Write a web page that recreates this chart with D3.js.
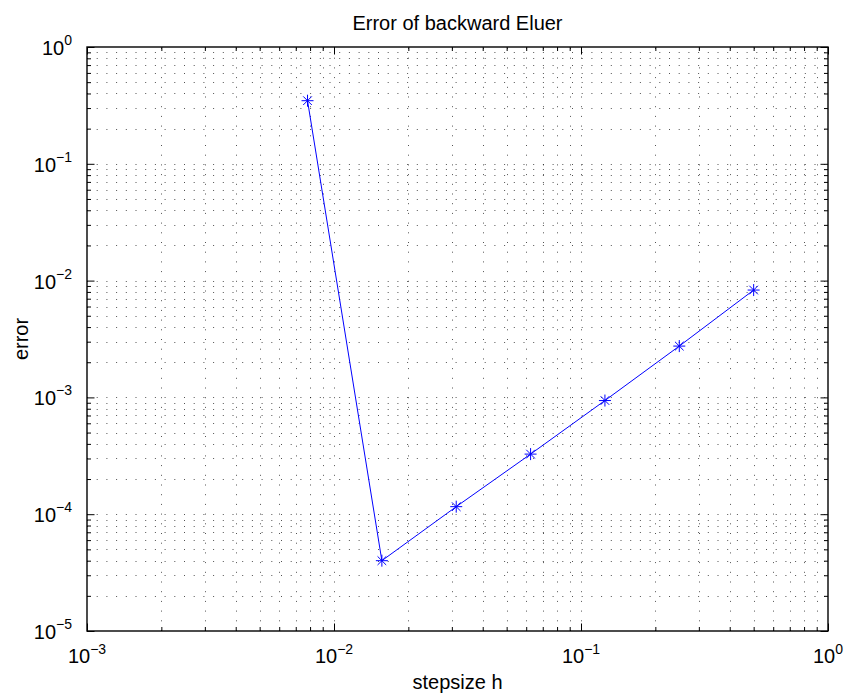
<!DOCTYPE html>
<html>
<head>
<meta charset="utf-8">
<script src="https://cdn.jsdelivr.net/npm/d3@7"></script>
<style>
  body { margin: 0; background: #fff; }
  svg text { font-family: "Liberation Sans", Arial, sans-serif; fill: #000; }
</style>
</head>
<body>
<div id="chart"></div>
<script>
// données
const stepsizes = [0.0078125, 0.015625, 0.03125, 0.0625, 0.125, 0.25, 0.5];
const errors = [0.347, 4.0e-5, 1.16e-4, 3.27e-4, 9.4e-4, 2.75e-3, 8.3e-3];
const xMajorTicks = [1e-3, 1e-2, 1e-1, 1e0];
const yMajorTicks = [1e-5, 1e-4, 1e-3, 1e-2, 1e-1, 1e0];
const titleText = 'Error of backward Eluer';
const xLabel = 'stepsize h';
const yLabel = 'error';

const width = 845, height = 695;
const margin = { top: 47, right: 17, bottom: 64, left: 87 };
const innerW = width - margin.left - margin.right;
const innerH = height - margin.top - margin.bottom;

const x = d3.scaleLog().domain([1e-3, 1]).range([0, innerW]);
const y = d3.scaleLog().domain([1e-5, 1]).range([innerH, 0]);

// ticks mineurs 2..9 dans chaque décade
function minorTicks(majors) {
    const out = [];
    for (let i = 0; i < majors.length - 1; i++) {
        for (let k = 2; k <= 9; k++) out.push(majors[i] * k);
    }
    return out;
}
const xMinor = minorTicks(xMajorTicks);
const yMinor = minorTicks(yMajorTicks);

const svg = d3.select('#chart').append('svg')
    .attr('width', width)
    .attr('height', height);

const g = svg.append('g').attr('transform', `translate(${margin.left},${margin.top})`);

// grille pointillée
const grid = g.append('g')
    .attr('stroke', '#000')
    .attr('stroke-width', 0.8)
    .attr('stroke-opacity', 0.85)
    .attr('stroke-dasharray', '1,8.7');

grid.selectAll('.gx')
    .data(xMajorTicks.slice(1, -1).concat(xMinor))
    .enter().append('line')
    .attr('x1', d => Math.round(x(d)) + 0.5)
    .attr('x2', d => Math.round(x(d)) + 0.5)
    .attr('y1', innerH)
    .attr('y2', 0);

grid.selectAll('.gy')
    .data(yMajorTicks.slice(1, -1).concat(yMinor))
    .enter().append('line')
    .attr('y1', d => Math.round(y(d)) + 0.5)
    .attr('y2', d => Math.round(y(d)) + 0.5)
    .attr('x1', 0)
    .attr('x2', innerW);

// axes avec ticks vers l'intérieur
const majorLen = 7.5, minorLen = 4;
function addAxis(axisFn, scale, transform, ticks, len) {
    const a = g.append('g')
        .attr('transform', transform)
        .call(axisFn(scale).tickValues(ticks).tickSize(-len).tickFormat(''));
    a.select('.domain').remove();
    a.selectAll('line').attr('stroke', '#000').attr('stroke-width', 1);
    return a;
}
addAxis(d3.axisBottom, x, `translate(0,${innerH})`, xMajorTicks, majorLen);
addAxis(d3.axisBottom, x, `translate(0,${innerH})`, xMinor, minorLen);
addAxis(d3.axisTop, x, 'translate(0,0)', xMajorTicks, majorLen);
addAxis(d3.axisTop, x, 'translate(0,0)', xMinor, minorLen);
addAxis(d3.axisLeft, y, 'translate(0,0)', yMajorTicks, majorLen);
addAxis(d3.axisLeft, y, 'translate(0,0)', yMinor, minorLen);
addAxis(d3.axisRight, y, `translate(${innerW},0)`, yMajorTicks, majorLen);
addAxis(d3.axisRight, y, `translate(${innerW},0)`, yMinor, minorLen);

// cadre
g.append('rect')
    .attr('x', 0).attr('y', 0)
    .attr('width', innerW).attr('height', innerH)
    .attr('fill', 'none')
    .attr('stroke', '#000')
    .attr('stroke-width', 1.4);

// étiquettes 10^n
function powerLabel(sel, d, up) {
    const e = Math.round(Math.log10(d));
    sel.append('tspan').text('10');
    sel.append('tspan')
        .attr('dy', -up)
        .attr('font-size', 14)
        .text(e < 0 ? '\u2212' + (-e) : String(e));
}

g.append('g').selectAll('text')
    .data(xMajorTicks)
    .enter().append('text')
    .attr('x', d => x(d))
    .attr('y', innerH + 32)
    .attr('text-anchor', 'middle')
    .attr('font-size', 20)
    .each(function(d) { powerLabel(d3.select(this), d, 9); });

g.append('g').selectAll('text')
    .data(yMajorTicks)
    .enter().append('text')
    .attr('x', -15)
    .attr('y', d => y(d) + 8)
    .attr('text-anchor', 'end')
    .attr('font-size', 20)
    .each(function(d) { powerLabel(d3.select(this), d, 10); });

// titres
svg.append('text')
    .attr('x', margin.left + innerW / 2)
    .attr('y', 30)
    .attr('text-anchor', 'middle')
    .attr('font-size', 20)
    .text(titleText);

svg.append('text')
    .attr('x', margin.left + innerW / 2)
    .attr('y', 689)
    .attr('text-anchor', 'middle')
    .attr('font-size', 20)
    .text(xLabel);

svg.append('text')
    .attr('transform', `translate(28,${margin.top + innerH / 2}) rotate(-90)`)
    .attr('text-anchor', 'middle')
    .attr('font-size', 20)
    .text(yLabel);

// courbe
const pts = stepsizes.map((h, i) => [h, errors[i]]);
g.append('path')
    .datum(pts)
    .attr('fill', 'none')
    .attr('stroke', '#0000ff')
    .attr('stroke-width', 1)
    .attr('d', d3.line().x(d => x(d[0])).y(d => y(d[1])));

// marqueurs astérisque
const r = 6;
const star = `M${-r},0H${r}M0,${-r}V${r}M${-r*0.72},${-r*0.72}L${r*0.72},${r*0.72}M${-r*0.72},${r*0.72}L${r*0.72},${-r*0.72}`;
g.append('g').selectAll('path')
    .data(pts)
    .enter().append('path')
    .attr('transform', d => `translate(${x(d[0])},${y(d[1])})`)
    .attr('d', star)
    .attr('fill', 'none')
    .attr('stroke', '#0000ff')
    .attr('stroke-width', 1);
</script>
</body>
</html>
